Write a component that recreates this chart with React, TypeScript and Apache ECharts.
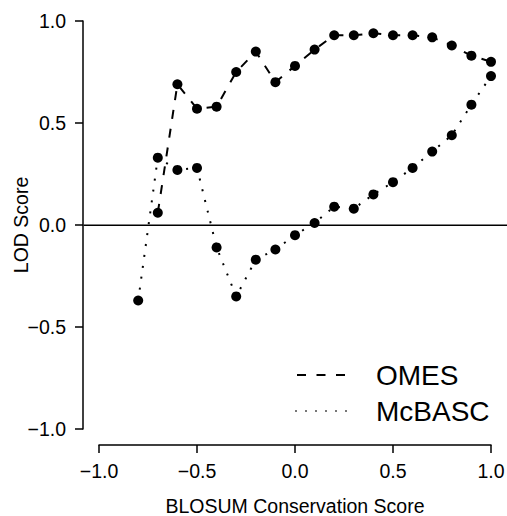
import React, { useEffect, useRef } from "react";
import * as echarts from "echarts";

const blosumScores = [-0.8, -0.7, -0.6, -0.5, -0.4, -0.3, -0.2, -0.1, 0.0, 0.1, 0.2, 0.3, 0.4, 0.5, 0.6, 0.7, 0.8, 0.9, 1.0];
const omesLod = [null, 0.06, 0.69, 0.57, 0.58, 0.75, 0.85, 0.70, 0.78, 0.86, 0.93, 0.93, 0.94, 0.93, 0.93, 0.92, 0.88, 0.83, 0.80];
const mcbascLod = [-0.37, 0.33, 0.27, 0.28, -0.11, -0.35, -0.17, -0.12, -0.05, 0.01, 0.09, 0.08, 0.15, 0.21, 0.28, 0.36, 0.44, 0.59, 0.73];
const seriesNames = ["OMES", "McBASC"];
const axisTicks = [-1.0, -0.5, 0.0, 0.5, 1.0];
const referenceLine = [[-1.08, 0], [1.08, 0]];

const FONT = "Liberation Sans, Arial, Helvetica, sans-serif";
const fmt = (v: number) => (v < 0 ? "\u2212" + Math.abs(v).toFixed(1) : v.toFixed(1));

export default function App() {
  const ref = useRef<HTMLDivElement>(null);
  useEffect(() => {
    if (!ref.current) return;
    const chart = echarts.init(ref.current, null, { renderer: "svg" });
    const pairs = (ys: (number | null)[]) => blosumScores.map((x, i) => [x, ys[i]]).filter((p) => p[1] !== null);
    const axisCommon = {
      type: "value" as const,
      min: axisTicks[0],
      max: axisTicks[axisTicks.length - 1],
      interval: 0.5,
      offset: 16,
      splitLine: { show: false },
      axisLine: { show: true, onZero: false, lineStyle: { color: "#000", width: 1.5 } },
      axisTick: { show: true, length: 8, lineStyle: { color: "#000", width: 1.5 } },
      nameLocation: "middle" as const,
      nameMoveOverlap: false,
      nameTextStyle: { color: "#000", fontSize: 19.5, fontFamily: FONT },
    };
    chart.setOption({
      animation: false,
      backgroundColor: "#fff",
      grid: [
        { left: 99, right: 16, top: 21, bottom: 87, containLabel: false, outerBoundsMode: "none" },
        { left: 83.6, right: 0, top: 4.7, bottom: 70.4, containLabel: false, outerBoundsMode: "none" },
      ],
      xAxis: [
        {
          ...axisCommon,
          gridIndex: 0,
          position: "bottom",
          name: "BLOSUM Conservation Score",
          nameGap: 51,
          axisLabel: { color: "#000", fontSize: 19.5, fontFamily: FONT, margin: 16, formatter: fmt },
        },
        { type: "value", gridIndex: 1, min: -1.08, max: 1.08, show: false },
      ],
      yAxis: [
        {
          ...axisCommon,
          gridIndex: 0,
          position: "left",
          name: "LOD Score",
          nameGap: 52,
          nameRotate: 90,
          axisLabel: { color: "#000", fontSize: 19.5, fontFamily: FONT, margin: 17, formatter: fmt },
        },
        { type: "value", gridIndex: 1, min: -1.08, max: 1.08, show: false },
      ],
      legend: {
        orient: "vertical",
        left: 290,
        top: 354,
        itemWidth: 52,
        itemHeight: 2,
        itemGap: 4,
        selectedMode: false,
        textStyle: { color: "#000", fontSize: 28, fontFamily: FONT, lineHeight: 32, padding: [0, 0, 0, 24] },
        data: [
          { name: seriesNames[0], icon: "path://M0,0h9v2h-9z M19.5,0h9v2h-9z M39,0h9v2h-9z", itemStyle: { color: "#000" } },
          {
            name: seriesNames[1],
            icon: "path://M0,0h2v2h-2z M10,0h2v2h-2z M20,0h2v2h-2z M30,0h2v2h-2z M40,0h2v2h-2z M50,0h2v2h-2z",
            itemStyle: { color: "#777" },
          },
        ],
      },
      series: [
        {
          name: "zero",
          type: "line",
          xAxisIndex: 1,
          yAxisIndex: 1,
          data: referenceLine,
          symbol: "none",
          silent: true,
          lineStyle: { color: "#000", width: 1.5 },
          z: 1,
        },
        {
          name: seriesNames[0],
          type: "line",
          data: pairs(omesLod),
          symbol: "circle",
          symbolSize: 10,
          clip: false,
          itemStyle: { color: "#000" },
          lineStyle: { color: "#000", width: 2, type: [9, 10] },
          z: 3,
        },
        {
          name: seriesNames[1],
          type: "line",
          data: pairs(mcbascLod),
          symbol: "circle",
          symbolSize: 10,
          clip: false,
          itemStyle: { color: "#000" },
          lineStyle: { color: "#000", width: 2, type: [2, 9] },
          z: 3,
        },
      ],
    });
    return () => chart.dispose();
  }, []);
  return <div ref={ref} style={{ position: "fixed", left: 0, top: 0, width: 507, height: 516 }} />;
}
